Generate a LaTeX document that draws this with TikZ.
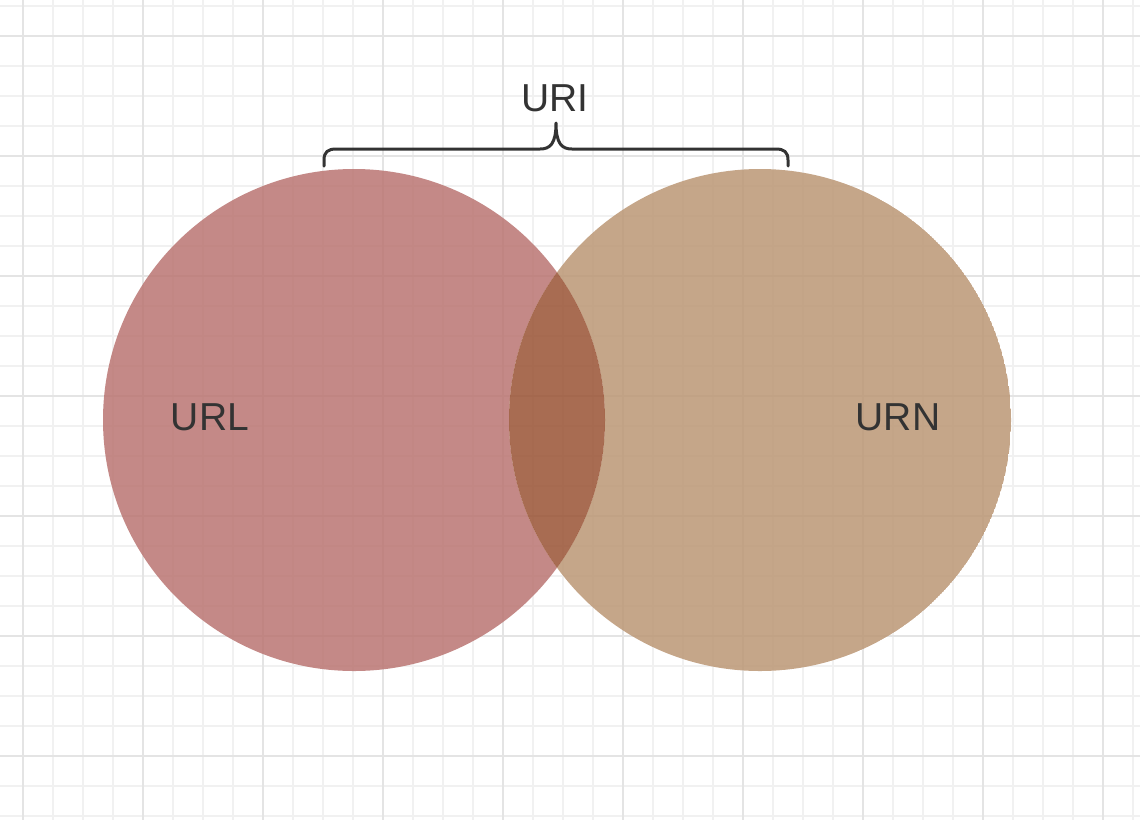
\documentclass[tikz,border=0pt]{standalone}
\usepackage{fontspec}
\setmainfont{Liberation Sans}
\definecolor{gridminor}{HTML}{F1F1F1}
\definecolor{gridmajor}{HTML}{E4E4E4}
\definecolor{urlfill}{RGB}{186,117,114}
\definecolor{urnfill}{RGB}{188,151,117}
\definecolor{bothfill}{RGB}{153,83,52}
\definecolor{inkc}{HTML}{333333}
\tikzset{
  minorline/.style={draw=gridminor, line width=0.6pt},
  majorline/.style={draw=gridmajor, line width=0.9pt},
  setfill/.style={opacity=0.85},
  label/.style={text=inkc, font=\fontsize{19.5pt}{22pt}\selectfont, inner sep=0pt, anchor=center},
  bracestyle/.style={draw=inkc, line width=1.5pt, line cap=round, line join=round}
}
\begin{document}
\begin{tikzpicture}[x=0.5pt, y=-0.5pt]
\useasboundingbox (0,0) rectangle (1140,820);
\fill[white] (0,0) rectangle (1140,820);
% grid
\foreach \i in {0,...,37} {
  \pgfmathsetmacro{\gx}{23+30*\i}
  \draw[minorline] (\gx,0) -- (\gx,820);
}
\foreach \i in {0,...,27} {
  \pgfmathsetmacro{\gy}{6+30*\i}
  \draw[minorline] (0,\gy) -- (1140,\gy);
}
\foreach \i in {0,...,9} {
  \pgfmathsetmacro{\gx}{23+120*\i}
  \draw[majorline] (\gx,0) -- (\gx,820);
}
\foreach \i in {0,...,6} {
  \pgfmathsetmacro{\gy}{36+120*\i}
  \draw[majorline] (0,\gy) -- (1140,\gy);
}
% sets
\begin{scope}
  \clip (354,420) circle [radius=251];
  \fill[urlfill, setfill, even odd rule] (354,420) circle [radius=251] (760,420) circle [radius=251];
\end{scope}
\begin{scope}
  \clip (760,420) circle [radius=251];
  \fill[urnfill, setfill, even odd rule] (354,420) circle [radius=251] (760,420) circle [radius=251];
\end{scope}
\begin{scope}
  \clip (354,420) circle [radius=251];
  \fill[bothfill, setfill] (760,420) circle [radius=251];
\end{scope}
% brace
\coordinate (bl) at (324,166);
\coordinate (br) at (788,166);
\coordinate (tip) at (556,123);
\draw[bracestyle] (bl) -- (324,160) .. controls (324,152) and (328,149) .. (336,149)
  -- (540,149) .. controls (550,149) and (556,144) .. (tip)
  .. controls (556,144) and (562,149) .. (572,149)
  -- (776,149) .. controls (784,149) and (788,152) .. (788,160) -- (br);
% labels
\node[label] (uri) at (555,98) {URI};
\node[label] (url) at (210,417) {URL};
\node[label] (urn) at (898,417) {URN};
\end{tikzpicture}
\end{document}
